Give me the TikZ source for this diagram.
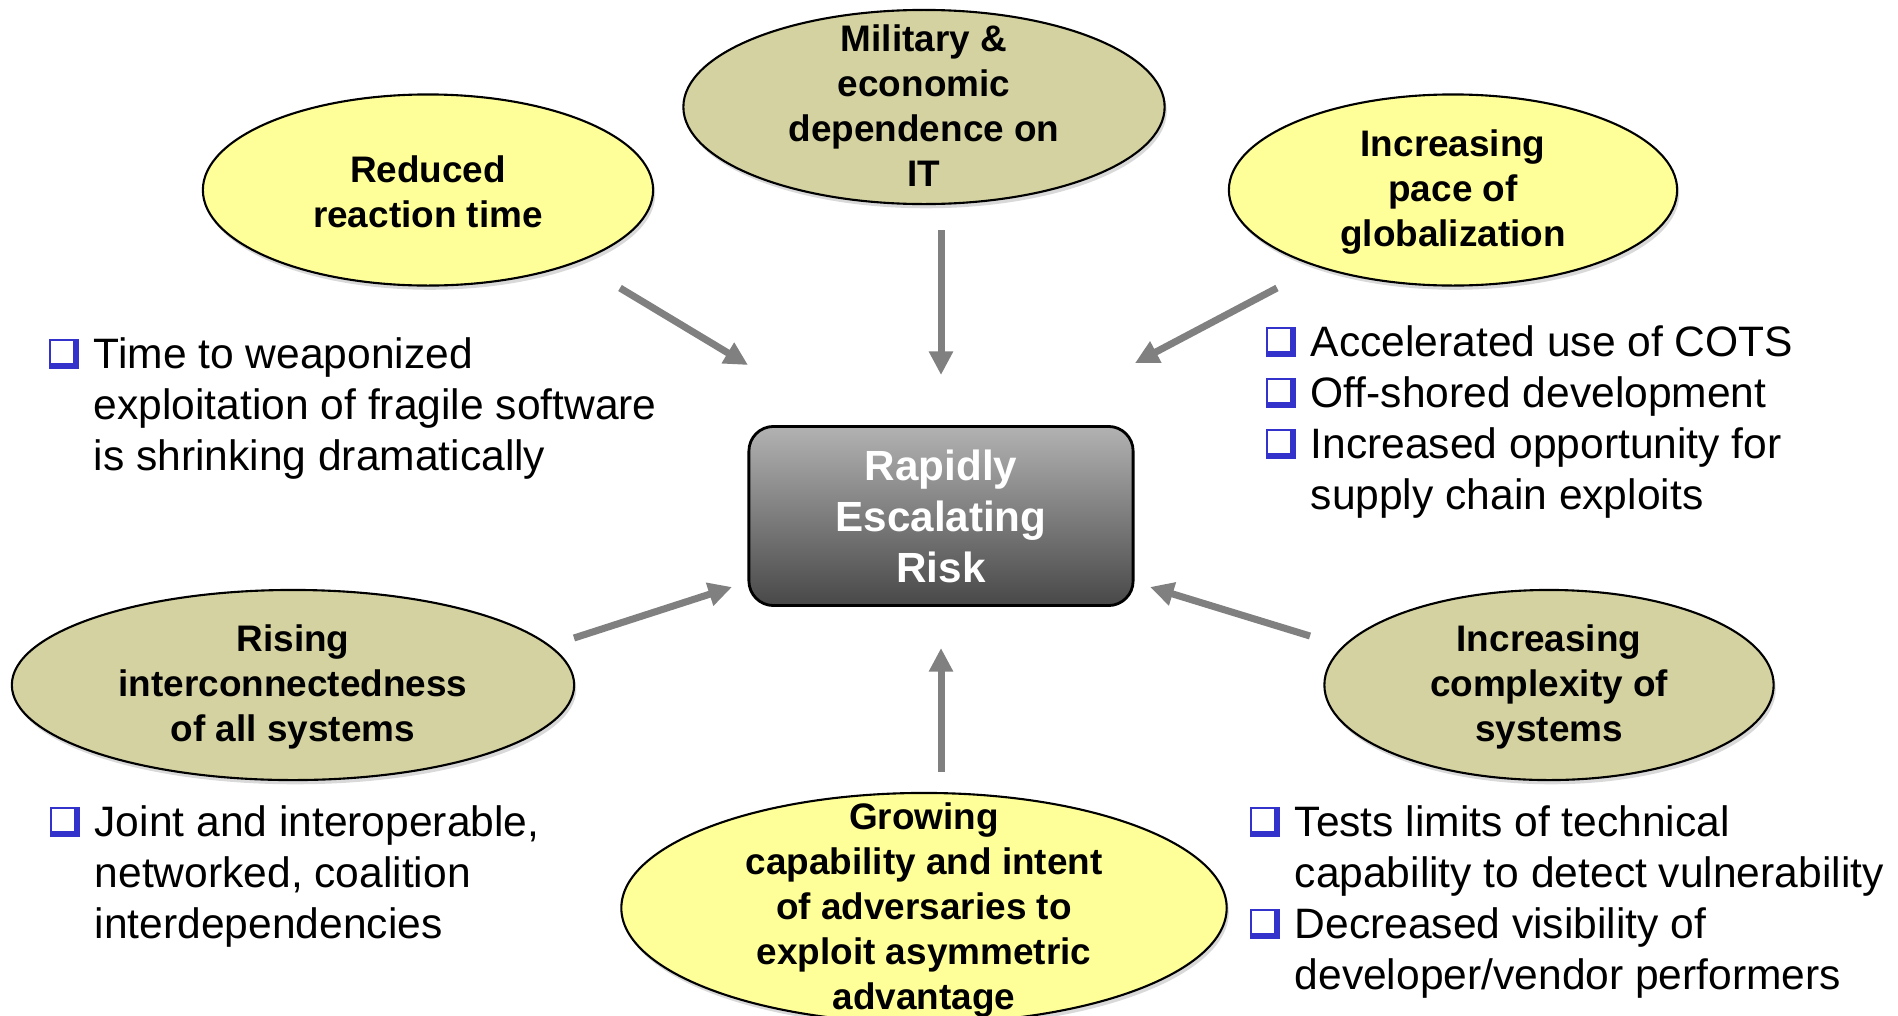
\documentclass[tikz,border=0pt]{standalone}
\usepackage{fontspec}
\setmainfont{Liberation Sans}
\usetikzlibrary{shapes.geometric, arrows.meta, shadows}

\definecolor{ovalolive}{RGB}{212,210,160}
\definecolor{ovalyellow}{RGB}{255,255,153}
\definecolor{bulblue}{RGB}{51,51,204}
\definecolor{arrowgray}{RGB}{128,128,128}

% hollow square bullet with a shadowed edge
\newcommand{\qbul}{\makebox[12.8pt][l]{\textcolor{bulblue}{\rule{8.5pt}{8.5pt}}\hspace{-7.9pt}\raisebox{1.7pt}{\textcolor{white}{\rule{6.2pt}{6.2pt}}}}}
\newcommand{\qind}{\hspace*{12.8pt}}

\begin{document}
\begin{tikzpicture}[x=0.01cm, y=-0.01cm,
    oval/.style={ellipse, draw, line width=0.6pt, inner sep=0pt,
        drop shadow={shadow xshift=0.6pt, shadow yshift=-1.2pt, opacity=0.3}},
    ovaltext/.style={align=center, inner sep=0pt, yshift=-0.6pt, font=\bfseries\fontsize{10.5}{12.8}\selectfont},
    riskbox/.style={rectangle, draw, line width=0.8pt, rounded corners=7pt,
        top color={rgb,255:red,178;green,178;blue,178}, bottom color={rgb,255:red,72;green,72;blue,72},
        minimum width=3.84cm, minimum height=1.79cm, align=center, text=white,
        font=\bfseries\fontsize{12}{14.5}\selectfont},
    bullets/.style={anchor=north west, align=left, inner sep=0pt, font=\fontsize{12.1}{14.5}\selectfont},
    push/.style={draw=arrowgray, line width=2pt, -{Triangle[length=6.7pt, width=6.5pt]}}]
    \useasboundingbox (0,0) rectangle (1898,1015);
    \clip (0,0) rectangle (1898,1015);

    % centre
    \node[riskbox] (risk) at (941,516) {Rapidly\\Escalating\\Risk};

    % drivers
    \node[oval, fill=ovalyellow, minimum width=4.50cm, minimum height=1.91cm] (reduce) at (428,190) {};
    \node[ovaltext] (reducetxt) at (reduce) {Reduced\\reaction time};
    \node[oval, fill=ovalolive, minimum width=4.81cm, minimum height=1.94cm] (depend) at (924,107) {};
    \node[ovaltext, yshift=1pt] (dependtxt) at (depend) {Military \&\\economic\\dependence on\\IT};
    \node[oval, fill=ovalyellow, minimum width=4.48cm, minimum height=1.91cm] (global) at (1453,190) {};
    \node[ovaltext] (globaltxt) at (global) {Increasing\\pace of\\globalization};
    \node[oval, fill=ovalolive, minimum width=5.62cm, minimum height=1.90cm] (connect) at (293,685) {};
    \node[ovaltext] (connecttxt) at (connect) {Rising\\interconnectedness\\of all systems};
    \node[oval, fill=ovalolive, minimum width=4.49cm, minimum height=1.90cm] (complex) at (1549,685) {};
    \node[ovaltext] (complextxt) at (complex) {Increasing\\complexity of\\systems};
    \node[oval, fill=ovalyellow, minimum width=6.05cm, minimum height=2.30cm] (adver) at (924,908) {};
    \node[ovaltext] (advertxt) at (adver) {Growing\\capability and intent\\of adversaries to\\exploit asymmetric\\advantage};

    % bullet lists
    \node[bullets] (reducelist) at (48,337) {\qbul Time to weaponized\\ \qind exploitation of fragile software\\ \qind is shrinking dramatically};
    \node[bullets] (globallist) at (1265,325) {\qbul Accelerated use of COTS\\ \qbul Off-shored development\\ \qbul Increased opportunity for\\ \qind supply chain exploits};
    \node[bullets] (connectlist) at (49,805) {\qbul Joint and interoperable,\\ \qind networked, coalition\\ \qind interdependencies};
    \node[bullets] (complexlist) at (1249,805) {\qbul Tests limits of technical\\ \qind capability to detect vulnerability\\ \qbul Decreased visibility of\\ \qind developer/vendor performers};

    % arrow ends
    \coordinate (reduce-s) at (620,288);
    \coordinate (reduce-e) at (748,365);
    \coordinate (depend-s) at (941,230);
    \coordinate (depend-e) at (941,375);
    \coordinate (global-s) at (1277,288);
    \coordinate (global-e) at (1135,363);
    \coordinate (connect-s) at (574,638);
    \coordinate (connect-e) at (732,587);
    \coordinate (adver-s) at (941,772);
    \coordinate (adver-e) at (941,648);
    \coordinate (complex-s) at (1310,636);
    \coordinate (complex-e) at (1150,587);

    \draw[push] (reduce-s) -- (reduce-e);
    \draw[push] (depend-s) -- (depend-e);
    \draw[push] (global-s) -- (global-e);
    \draw[push] (connect-s) -- (connect-e);
    \draw[push] (adver-s) -- (adver-e);
    \draw[push] (complex-s) -- (complex-e);
\end{tikzpicture}
\end{document}
